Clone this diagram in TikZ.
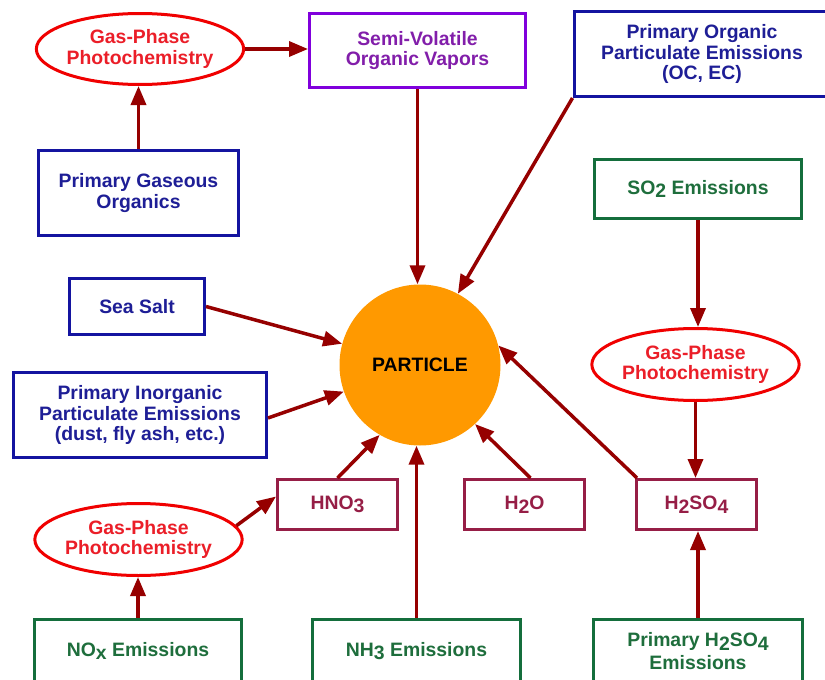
\documentclass[tikz,border=0pt]{standalone}
\usepackage{fontspec}
\setmainfont{Liberation Sans}
\usetikzlibrary{shapes.geometric,arrows.meta}
\definecolor{bbox}{RGB}{20,20,160}
\definecolor{btext}{RGB}{30,30,150}
\definecolor{rline}{RGB}{240,0,0}
\definecolor{rtext}{RGB}{235,30,40}
\definecolor{gline}{RGB}{20,110,60}
\definecolor{gtext}{RGB}{30,110,60}
\definecolor{mline}{RGB}{150,30,70}
\definecolor{vline}{RGB}{128,0,220}
\definecolor{vtext}{RGB}{130,30,170}
\definecolor{arr}{RGB}{150,0,0}
\definecolor{orng}{RGB}{255,153,0}
\newcommand{\lo}[1]{\raisebox{-3.5pt}{#1}}
\tikzset{
  base/.style={line width=3pt, align=center, inner sep=0pt,
    font=\fontsize{19.4}{20.5}\selectfont\bfseries},
  bluebox/.style={base, rectangle, draw=bbox, text=btext},
  violetbox/.style={base, rectangle, draw=vline, text=vtext},
  greenbox/.style={base, rectangle, draw=gline, text=gtext},
  maroonbox/.style={base, rectangle, draw=mline, text=mline},
  photo/.style={base, ellipse, draw=rline, text=rtext, minimum width=202pt, minimum height=71pt},
  conn/.style={draw=arr, line width=3.5pt, -{Triangle[length=19pt,width=15pt]}},
}
\begin{document}
\begin{tikzpicture}[x=1pt,y=-1pt]
\useasboundingbox (0,0) rectangle (825,680);
\fill[white] (0,0) rectangle (825,680);
% nodes
\node[photo] (gp1) at (140,49) {Gas-Phase\\Photochemistry};
\node[violetbox, minimum width=216pt, minimum height=74pt] (sv) at (417.5,50.5) {Semi-Volatile\\Organic Vapors};
\node[bluebox, minimum width=256pt, minimum height=85pt] (poe) at (702,54) {\raisebox{-3pt}{\parbox{256pt}{\centering Primary Organic\\Particulate Emissions\\(OC, EC)}}};
\node[bluebox, minimum width=200pt, minimum height=85pt] (pgo) at (138.5,193) {Primary Gaseous\\Organics};
\node[greenbox, minimum width=207pt, minimum height=59pt] (so2) at (698,189) {SO\lo{2} Emissions};
\node[bluebox, minimum width=135pt, minimum height=56pt] (ss) at (137,306.5) {Sea Salt};
\node[bluebox, minimum width=253pt, minimum height=85pt] (pi) at (140,415) {Primary Inorganic\\Particulate Emissions\\(dust, fly ash, etc.)};
\node[circle, fill=orng, minimum size=161pt, inner sep=0pt, font=\fontsize{19.4}{20.5}\selectfont\bfseries] (p) at (420,365) {PARTICLE};
\node[photo, minimum width=204pt, minimum height=72pt] (gp2) at (695.5,364.5) {Gas-Phase\\Photochemistry};
\node[maroonbox, minimum width=120pt, minimum height=50pt] (hno3) at (337.5,504.5) {HNO\lo{3}};
\node[maroonbox, minimum width=120pt, minimum height=50pt] (h2o) at (524.5,504.5) {H\lo{2}O};
\node[maroonbox, minimum width=120pt, minimum height=50pt] (h2so4) at (696.5,504.5) {H\lo{2}SO\lo{4}};
\node[photo, minimum width=200pt, minimum height=72pt] (gp3) at (138.5,539.5) {Gas-Phase\\Photochemistry};
\node[greenbox, minimum width=207pt, minimum height=64pt] (nox) at (138,651) {NO\lo{x} Emissions};
\node[greenbox, minimum width=208pt, minimum height=64pt] (nh3) at (416.5,651) {NH\lo{3} Emissions};
\node[greenbox, minimum width=209pt, minimum height=64pt] (ph) at (698,651) {Primary H\lo{2}SO\lo{4}\\[2pt]Emissions};
% connectors
\draw[conn] (gp1.east) -- (sv.west |- gp1.east);
\draw[conn] (pgo.north) -- (pgo.north |- gp1.south);
\draw[conn] (sv.south) -- (sv.south |- p.north);
\draw[conn] (poe.south west) -- (p.62);
\draw[conn] (so2.south) -- (so2.south |- gp2.north);
\draw[conn] (gp2.south) -- (gp2.south |- h2so4.north);
\draw[conn] (ph.north) -- (ph.north |- h2so4.south);
\draw[conn] ([xshift=2pt]h2so4.north west) -- (p.14);
\draw[conn] ([xshift=6pt]h2o.north) -- (p.-47);
\draw[conn] (hno3.north) -- (p.-120);
\draw[conn] (nh3.north) -- (nh3.north |- p.south);
\draw[conn] (ss.east) -- (p);
\draw[conn] ([yshift=-3pt]pi.east) -- (p);
\draw[conn] (gp3.8) -- ([yshift=8pt]hno3.west);
\draw[conn] (nox.north) -- (nox.north |- gp3.south);
\end{tikzpicture}
\end{document}
